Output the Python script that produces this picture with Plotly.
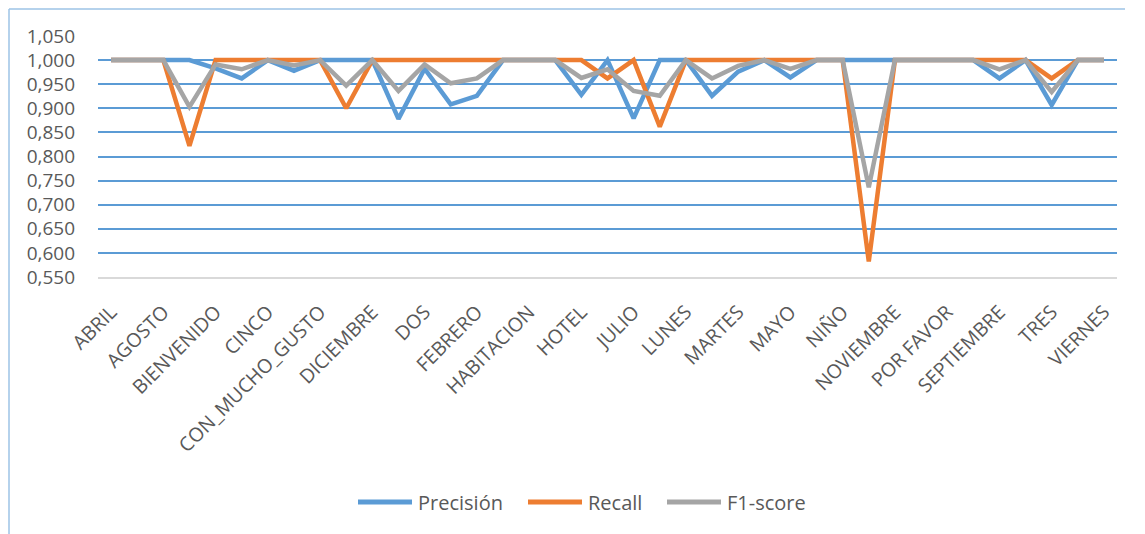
import plotly.graph_objects as go

# Categories (39 words, only every other one is labelled on the axis)
idx = list(range(39))
tick_positions = list(range(0, 39, 2))
tick_labels = ["ABRIL", "AGOSTO", "BIENVENIDO", "CINCO", "CON_MUCHO_GUSTO",
               "DICIEMBRE", "DOS", "FEBRERO", "HABITACION", "HOTEL",
               "JULIO", "LUNES", "MARTES", "MAYO", "NIÑO",
               "NOVIEMBRE", "POR FAVOR", "SEPTIEMBRE", "TRES", "VIERNES"]

precision = [1, 1, 1, 1, 0.983, 0.962, 1, 0.978, 1, 1,
             1, 0.878, 0.982, 0.908, 0.926, 1, 1, 1, 0.928, 1,
             0.879, 1, 1, 0.926, 0.976, 1, 0.964, 1, 1, 1,
             1, 1, 1, 1, 0.962, 1, 0.907, 1, 1]
recall = [1, 1, 1, 0.822, 1, 1, 1, 1, 1, 0.900,
          1, 1, 1, 1, 1, 1, 1, 1, 1, 0.962,
          1, 0.862, 1, 1, 1, 1, 1, 1, 1, 0.582,
          1, 1, 1, 1, 1, 1, 0.962, 1, 1]
f1 = [1, 1, 1, 0.903, 0.991, 0.981, 1, 0.989, 1, 0.947,
      1, 0.936, 0.991, 0.952, 0.962, 1, 1, 1, 0.963, 0.981,
      0.936, 0.926, 1, 0.962, 0.988, 1, 0.982, 1, 1, 0.736,
      1, 1, 1, 1, 0.981, 1, 0.934, 1, 1]

series_names = ["Precisión", "Recall", "F1-score"]
series_values = [precision, recall, f1]
series_colors = ["#5B9BD5", "#ED7D31", "#A5A5A5"]

fig = go.Figure()
for name, vals, color in zip(series_names, series_values, series_colors):
    fig.add_trace(go.Scatter(x=idx, y=vals, name=name, mode="lines",
                             line=dict(color=color, width=4.5, shape="linear"),
                             hoverinfo="x+y"))

FONT = "Open Sans"
GRAY = "#595959"
# the page body has an 8px margin, so the figure starts at (8, 8)
OFF = 8
W, H = 1145 - OFF, 534 - OFF
ML, MR, MT, MB = 98 - OFF, 28, 36 - OFF, 257
pw, ph = W - ML - MR, H - MT - MB


def px_x(x):  # page pixel -> paper x
    return (x - OFF - ML) / pw


def px_y(y):  # page pixel -> paper y
    return (H - MB - (y - OFF)) / ph


# Legend drawn like the original (long line samples)
legend_line_starts = [358, 528, 667]
legend_y = 502
shapes = [
    dict(type="line", xref="paper", yref="paper",
         x0=px_x(9), x1=px_x(9), y0=px_y(9), y1=px_y(534),
         line=dict(color="#9DC3E6", width=1.5), layer="above"),
    dict(type="line", xref="paper", yref="paper",
         x0=px_x(9), x1=px_x(1125), y0=px_y(9), y1=px_y(9),
         line=dict(color="#9DC3E6", width=1.5), layer="above"),
]
annotations = []
for name, color, x0 in zip(series_names, series_colors, legend_line_starts):
    shapes.append(dict(type="line", xref="paper", yref="paper",
                       x0=px_x(x0), x1=px_x(x0 + 54),
                       y0=px_y(legend_y), y1=px_y(legend_y),
                       line=dict(color=color, width=5)))
    annotations.append(dict(xref="paper", yref="paper", x=px_x(x0 + 58),
                            y=px_y(legend_y), xanchor="left", yanchor="middle",
                            text=name, showarrow=False,
                            font=dict(family=FONT, size=20, color=GRAY)))

fig.update_layout(
    width=W, height=H,
    margin=dict(l=ML, r=MR, t=MT, b=MB),
    paper_bgcolor="white", plot_bgcolor="white",
    separators=",.",
    font=dict(family=FONT, color=GRAY, size=20),
    showlegend=False,
    xaxis=dict(range=[-0.5, 38.5], tickmode="array", tickvals=tick_positions,
               ticktext=tick_labels, tickangle=-45, showgrid=False,
               showline=True, linecolor="#D9D9D9", linewidth=2,
               ticks="", zeroline=False, ticklabelstandoff=14,
               tickfont=dict(family=FONT, size=19.5, color=GRAY)),
    yaxis=dict(range=[0.55, 1.05], tick0=0.55, dtick=0.05, tickformat=".3f",
               showgrid=True, gridcolor="#5B9BD5", gridwidth=1.5,
               zeroline=False, showline=False, ticks="",
               ticklabelstandoff=22,
               tickfont=dict(family=FONT, size=19, color=GRAY)),
    shapes=shapes,
    annotations=annotations,
)

fig.write_html("out.html")
